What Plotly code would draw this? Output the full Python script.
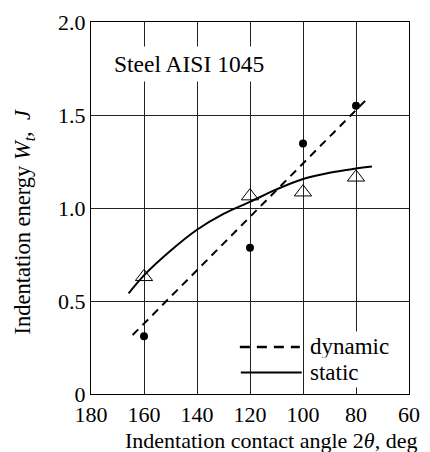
import plotly.graph_objects as go

# Measured points
angle_pts = [160, 120, 100, 80]
dynamic_pts = [0.31, 0.786, 1.347, 1.55]
static_pts = [0.63, 1.064, 1.085, 1.165]

# Fitted trend for dynamic indentation (straight line)
dyn_fit_angle = [164.3, 75.7]
dyn_fit_energy = [0.317, 1.588]

# Fitted curve for static indentation
stat_fit_angle = [165.8, 160, 150, 140, 130, 120, 110, 100, 90, 80, 74]
stat_fit_energy = [0.541, 0.638, 0.77, 0.883, 0.968, 1.033, 1.100, 1.156, 1.19, 1.212, 1.223]

x_ticks = [180, 160, 140, 120, 100, 80, 60]
y_ticks = [0, 0.5, 1.0, 1.5, 2.0]
y_tick_text = ["0", "0.5", "1.0", "1.5", "2.0"]

FONT = "'Liberation Serif', 'Times New Roman', serif"

fig = go.Figure()

fig.add_trace(go.Scatter(
    x=stat_fit_angle, y=stat_fit_energy, mode="lines", line_shape="spline",
    line=dict(color="black", width=2), showlegend=False))
fig.add_trace(go.Scatter(
    x=dyn_fit_angle, y=dyn_fit_energy, mode="lines",
    line=dict(color="black", width=2, dash="8px,6px"), showlegend=False))
fig.add_trace(go.Scatter(
    x=angle_pts, y=static_pts, mode="markers",
    marker=dict(symbol="triangle-up-open", size=15, color="black", line=dict(width=1)),
    showlegend=False))
fig.add_trace(go.Scatter(
    x=angle_pts, y=dynamic_pts, mode="markers",
    marker=dict(symbol="circle", size=8, color="black"), showlegend=False))

W, H = 430, 452
L, R, T, B = 91, 10, 15, 58
pw, ph = W - L - R, H - T - B


def px(x):
    return (x - L) / pw


def py(y):
    return (H - B - y) / ph


axis_common = dict(
    showgrid=True, gridcolor="#222", gridwidth=1,
    showline=True, linecolor="black", linewidth=1.3, mirror=True,
    ticks="", zeroline=False,
    tickfont=dict(family=FONT, size=22, color="black"),
)

fig.update_layout(
    width=W, height=H,
    margin=dict(l=L, r=R, t=T, b=B),
    paper_bgcolor="white", plot_bgcolor="white",
    font=dict(family=FONT, color="black"),
    xaxis=dict(range=[180, 60], tickvals=x_ticks, **axis_common),
    yaxis=dict(range=[0, 2.0], tickvals=y_ticks, ticktext=y_tick_text, **axis_common),
    annotations=[
        dict(text="Steel AISI 1045", xref="paper", yref="paper",
             x=px(192), y=py(58), xanchor="center", yanchor="middle",
             showarrow=False, bgcolor="white", borderpad=4,
             font=dict(family=FONT, size=23.5, color="black")),
        dict(text="dynamic", xref="paper", yref="paper",
             x=px(314), y=py(346), xanchor="left", yanchor="middle",
             showarrow=False, bgcolor="white", borderpad=2,
             font=dict(family=FONT, size=23, color="black")),
        dict(text="static", xref="paper", yref="paper",
             x=px(314), y=py(372), xanchor="left", yanchor="middle",
             showarrow=False, bgcolor="white", borderpad=2,
             font=dict(family=FONT, size=23, color="black")),
        dict(text="Indentation contact angle 2<i>θ</i>, deg", xref="paper", yref="paper",
             x=px(277), y=py(441), xanchor="center", yanchor="middle",
             showarrow=False, font=dict(family=FONT, size=22, color="black")),
        dict(text="Indentation energy <i>W</i><sub><i>t</i></sub>,  <i>J</i>",
             xref="paper", yref="paper", textangle=-90,
             x=px(22), y=py(218), xanchor="center", yanchor="middle",
             showarrow=False, font=dict(family=FONT, size=22.5, color="black")),
    ],
    shapes=[
        dict(type="line", xref="paper", yref="paper",
             x0=px(245), x1=px(307), y0=py(346), y1=py(346),
             line=dict(color="black", width=2.5, dash="10px,7px")),
        dict(type="line", xref="paper", yref="paper",
             x0=px(246), x1=px(309), y0=py(372), y1=py(372),
             line=dict(color="black", width=2)),
    ],
)

fig.write_html("out.html")
